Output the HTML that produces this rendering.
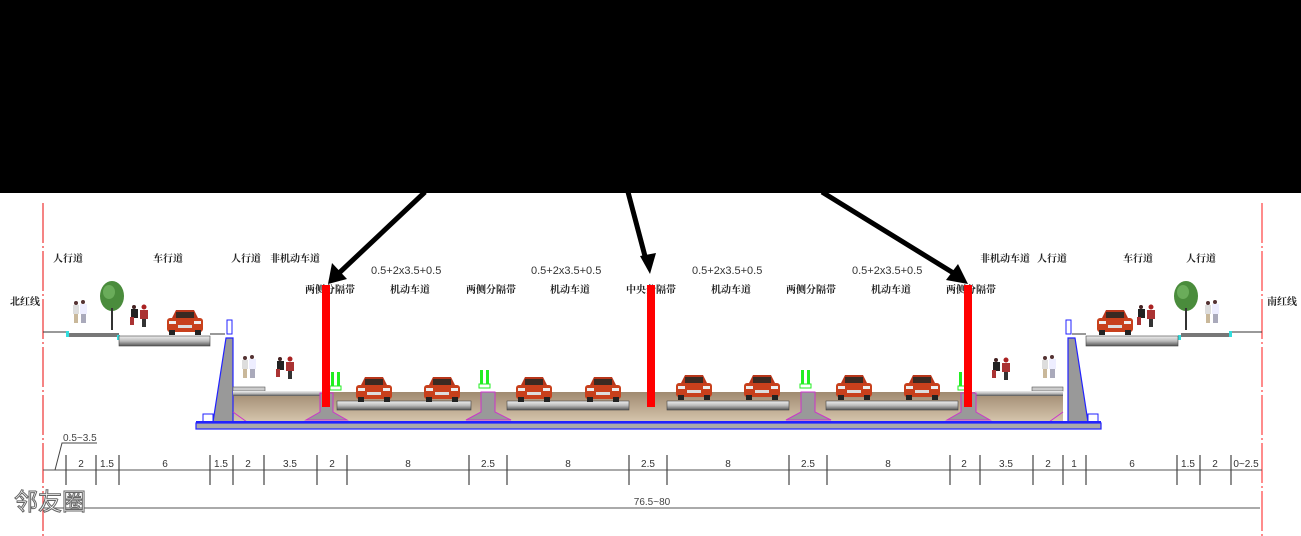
<!DOCTYPE html>
<html><head><meta charset="utf-8"><style>
html,body{margin:0;padding:0;background:#fff;}
svg{display:block;}
text{font-family:"Liberation Sans","Noto Sans CJK SC",sans-serif;fill:#333;}
.cn{font-size:10px;font-family:"Noto Serif CJK SC","Noto Sans CJK SC",serif;font-weight:bold;fill:#222;}
.dm{font-size:10px;fill:#444;}
</style></head><body>
<svg width="1301" height="536" viewBox="0 0 1301 536" xmlns="http://www.w3.org/2000/svg">
<defs>
<linearGradient id="slab" x1="0" y1="0" x2="0" y2="1"><stop offset="0" stop-color="#eee"/><stop offset="0.5" stop-color="#bbb"/><stop offset="1" stop-color="#555"/></linearGradient>
<linearGradient id="tan" x1="0" y1="0" x2="0" y2="1"><stop offset="0" stop-color="#a08a70"/><stop offset="1" stop-color="#d8c8b0"/></linearGradient>
<g id="car">
<rect x="1" y="10" width="36" height="14" rx="3" fill="#c8401c"/>
<path d="M6 10 L10 2 L28 2 L32 10 Z" fill="#b8361a"/>
<rect x="10" y="4" width="18" height="6" fill="#3a2a22"/>
<rect x="3" y="13" width="7" height="3" fill="#eee"/><rect x="28" y="13" width="7" height="3" fill="#eee"/>
<rect x="12" y="17" width="14" height="3" fill="#ddd"/>
<rect x="3" y="22" width="6" height="5" fill="#222"/><rect x="29" y="22" width="6" height="5" fill="#222"/>
</g>
<g id="ppl">
<circle cx="3" cy="2" r="2" fill="#533"/><rect x="0" y="4" width="6" height="9" fill="#ddd"/><rect x="1" y="13" width="4" height="9" fill="#c9b89a"/>
<circle cx="10" cy="1" r="2" fill="#533"/><rect x="7" y="3" width="7" height="10" fill="#eef"/><rect x="8" y="13" width="5" height="9" fill="#aab"/>
</g>
<g id="bike">
<circle cx="4" cy="2" r="2" fill="#422"/><rect x="1" y="4" width="7" height="9" fill="#222"/><rect x="0" y="12" width="4" height="8" fill="#a33"/>
<circle cx="14" cy="2" r="2.5" fill="#a22"/><rect x="10" y="5" width="8" height="9" fill="#a33"/><rect x="12" y="14" width="4" height="8" fill="#333"/>
</g>
<g id="tree">
<ellipse cx="0" cy="-14" rx="12" ry="15" fill="#4a8c3c"/><ellipse cx="-3" cy="-18" rx="6" ry="7" fill="#6aac5a"/><rect x="-1" y="-2" width="2" height="22" fill="#333"/>
</g>
<g id="pin"><rect x="0" y="0" width="3" height="14" fill="#2e2" /><rect x="6" y="0" width="3" height="14" fill="#2e2"/><rect x="-1" y="14" width="11" height="4" fill="none" stroke="#2e2"/></g>
</defs>

<rect x="0" y="0" width="1301" height="193" fill="#000"/>

<!-- red boundary lines -->
<line x1="43" y1="203" x2="43" y2="536" stroke="#e33" stroke-width="1.2" stroke-dasharray="40 3 2 3"/>
<line x1="1262" y1="203" x2="1262" y2="536" stroke="#f66" stroke-width="1.5" stroke-dasharray="40 3 2 3"/>

<!-- labels -->
<text class="cn" x="53" y="262">人行道</text>
<text class="cn" x="153" y="262">车行道</text>
<text class="cn" x="231" y="262">人行道</text>
<text class="cn" x="270" y="262">非机动车道</text>
<text class="cn" x="980" y="262">非机动车道</text>
<text class="cn" x="1037" y="262">人行道</text>
<text class="cn" x="1123" y="262">车行道</text>
<text class="cn" x="1186" y="262">人行道</text>
<text class="cn" x="10" y="305">北红线</text>
<text class="cn" x="1267" y="305">南红线</text>
<g font-size="11">
<text x="371" y="274">0.5+2x3.5+0.5</text>
<text x="531" y="274">0.5+2x3.5+0.5</text>
<text x="692" y="274">0.5+2x3.5+0.5</text>
<text x="852" y="274">0.5+2x3.5+0.5</text>
</g>
<text class="cn" x="305" y="293">两侧分隔带</text>
<text class="cn" x="390" y="293">机动车道</text>
<text class="cn" x="466" y="293">两侧分隔带</text>
<text class="cn" x="550" y="293">机动车道</text>
<text class="cn" x="626" y="293">中央分隔带</text>
<text class="cn" x="711" y="293">机动车道</text>
<text class="cn" x="786" y="293">两侧分隔带</text>
<text class="cn" x="871" y="293">机动车道</text>
<text class="cn" x="946" y="293">两侧分隔带</text>

<!-- upper left -->
<line x1="43" y1="332" x2="67" y2="332" stroke="#333"/>
<rect x="67" y="333" width="52" height="4" fill="#777"/>
<rect x="66" y="331" width="3" height="6" fill="#3dd"/><rect x="117" y="335" width="3" height="5" fill="#3dd"/>
<rect x="119" y="336" width="91" height="10" fill="url(#slab)" stroke="#444" stroke-width="0.6"/>
<line x1="210" y1="334" x2="225" y2="334" stroke="#333"/>
<!-- upper right -->
<line x1="1231" y1="332" x2="1262" y2="332" stroke="#333"/>
<rect x="1181" y="333" width="50" height="4" fill="#777"/>
<rect x="1178" y="335" width="3" height="5" fill="#3dd"/><rect x="1229" y="331" width="3" height="6" fill="#3dd"/>
<rect x="1086" y="336" width="92" height="10" fill="url(#slab)" stroke="#444" stroke-width="0.6"/>
<line x1="1072" y1="334" x2="1086" y2="334" stroke="#333"/>

<use href="#ppl" x="73" y="301"/><use href="#tree" x="112" y="310"/>
<use href="#bike" x="130" y="305"/><use href="#car" x="166" y="308"/>
<use href="#car" x="1096" y="308"/><use href="#bike" x="1137" y="305"/>
<use href="#tree" x="1186" y="310"/><use href="#ppl" x="1205" y="301"/>

<!-- tan fill -->
<rect x="233" y="392" width="830" height="31" fill="url(#tan)"/>
<!-- base plate -->
<rect x="196" y="423" width="905" height="6" fill="#aaa" stroke="#22f" stroke-width="1.2"/>
<!-- retaining walls -->
<path d="M213 422 L226 338 L233 338 L233 422 Z" fill="#999" stroke="#22f" stroke-width="1.2"/>
<path d="M1088 422 L1075 338 L1068 338 L1068 422 Z" fill="#999" stroke="#22f" stroke-width="1.2"/>
<rect x="203" y="414" width="10" height="9" fill="none" stroke="#22f"/>
<rect x="1088" y="414" width="10" height="9" fill="none" stroke="#22f"/>
<rect x="227" y="320" width="5" height="14" fill="none" stroke="#22f"/>
<rect x="1066" y="320" width="5" height="14" fill="none" stroke="#22f"/>
<path d="M233 412 L247 422" stroke="#c3c" fill="none"/><path d="M1063 412 L1049 422" stroke="#c3c" fill="none"/>

<!-- sidewalks lower -->
<rect x="233" y="387" width="32" height="4" fill="#ccc" stroke="#555" stroke-width="0.6"/>
<rect x="233" y="391" width="90" height="5" fill="url(#slab)"/>
<rect x="1032" y="387" width="31" height="4" fill="#ccc" stroke="#555" stroke-width="0.6"/>
<rect x="975" y="391" width="88" height="5" fill="url(#slab)"/>
<use href="#ppl" x="242" y="356"/><use href="#bike" x="276" y="357"/>
<use href="#bike" x="992" y="358"/><use href="#ppl" x="1042" y="356"/>

<!-- road slabs -->
<g fill="url(#slab)" stroke="#444" stroke-width="0.6">
<rect x="337" y="401" width="134" height="9"/>
<rect x="507" y="401" width="122" height="9"/>
<rect x="667" y="401" width="122" height="9"/>
<rect x="826" y="401" width="132" height="9"/>
</g>
<!-- separator bases -->
<g fill="#999" stroke="#c3c" stroke-width="1">
<path d="M320 393 L333 393 L333 412 L347 420 L306 420 L320 412 Z"/>
<path d="M481 392 L495 392 L495 412 L511 420 L466 420 L481 412 Z"/>
<path d="M801 392 L815 392 L815 412 L831 420 L786 420 L801 412 Z"/>
<path d="M961 393 L976 393 L976 412 L990 420 L947 420 L961 412 Z"/>
</g>
<line x1="196" y1="422" x2="1101" y2="422" stroke="#22f" stroke-width="2"/>
<use href="#pin" x="331" y="372"/>
<use href="#pin" x="480" y="370"/><use href="#pin" x="801" y="370"/>
<use href="#pin" x="959" y="372"/>

<g>
<use href="#car" x="355" y="375"/><use href="#car" x="423" y="375"/>
<use href="#car" x="515" y="375"/><use href="#car" x="584" y="375"/>
<use href="#car" x="675" y="373"/><use href="#car" x="743" y="373"/>
<use href="#car" x="835" y="373"/><use href="#car" x="903" y="373"/>
</g>

<!-- red bars -->
<rect x="322" y="285" width="8" height="122" fill="#f00"/>
<rect x="647" y="285" width="8" height="122" fill="#f00"/>
<rect x="964" y="285" width="8" height="122" fill="#f00"/>

<!-- arrows -->
<g stroke="#000" stroke-width="5">
<line x1="425" y1="192" x2="338" y2="274"/>
<line x1="628" y1="192" x2="646" y2="260"/>
<line x1="822" y1="192" x2="955" y2="274"/>
</g>
<g fill="#000">
<path d="M328 284 L332 263 L347 279 Z"/>
<path d="M650 274 L640 256 L656 253 Z"/>
<path d="M968 284 L946 280 L958 264 Z"/>
</g>

<!-- dimensions -->
<line x1="43" y1="470" x2="1262" y2="470" stroke="#555"/>
<g stroke="#444" stroke-width="1.2">
<line x1="66" y1="455" x2="66" y2="485"/><line x1="96" y1="455" x2="96" y2="485"/><line x1="119" y1="455" x2="119" y2="485"/>
<line x1="210" y1="455" x2="210" y2="485"/><line x1="233" y1="455" x2="233" y2="485"/><line x1="264" y1="455" x2="264" y2="485"/>
<line x1="317" y1="455" x2="317" y2="485"/><line x1="347" y1="455" x2="347" y2="485"/><line x1="469" y1="455" x2="469" y2="485"/>
<line x1="507" y1="455" x2="507" y2="485"/><line x1="629" y1="455" x2="629" y2="485"/><line x1="667" y1="455" x2="667" y2="485"/>
<line x1="789" y1="455" x2="789" y2="485"/><line x1="827" y1="455" x2="827" y2="485"/><line x1="950" y1="455" x2="950" y2="485"/>
<line x1="980" y1="455" x2="980" y2="485"/><line x1="1033" y1="455" x2="1033" y2="485"/><line x1="1063" y1="455" x2="1063" y2="485"/>
<line x1="1086" y1="455" x2="1086" y2="485"/><line x1="1177" y1="455" x2="1177" y2="485"/><line x1="1200" y1="455" x2="1200" y2="485"/>
<line x1="1231" y1="455" x2="1231" y2="485"/>
</g>
<path d="M55 470 L62 443 L97 443" stroke="#444" fill="none"/>
<text class="dm" x="63" y="441">0.5~3.5</text>
<g class="dm" text-anchor="middle">
<text x="81" y="467">2</text><text x="107" y="467">1.5</text><text x="165" y="467">6</text>
<text x="221" y="467">1.5</text><text x="248" y="467">2</text><text x="290" y="467">3.5</text>
<text x="332" y="467">2</text><text x="408" y="467">8</text><text x="488" y="467">2.5</text>
<text x="568" y="467">8</text><text x="648" y="467">2.5</text><text x="728" y="467">8</text>
<text x="808" y="467">2.5</text><text x="888" y="467">8</text><text x="964" y="467">2</text>
<text x="1006" y="467">3.5</text><text x="1048" y="467">2</text><text x="1074" y="467">1</text>
<text x="1132" y="467">6</text><text x="1188" y="467">1.5</text><text x="1215" y="467">2</text>
<text x="1246" y="467">0~2.5</text>
</g>
<line x1="43" y1="508" x2="1260" y2="508" stroke="#555"/>
<text class="dm" x="652" y="505" text-anchor="middle">76.5~80</text>

<text x="14" y="510" font-size="24" style="fill:#fff;stroke:#666;stroke-width:1;font-family:'Noto Sans CJK SC',sans-serif">邻友圈</text>
</svg>
</body></html>
